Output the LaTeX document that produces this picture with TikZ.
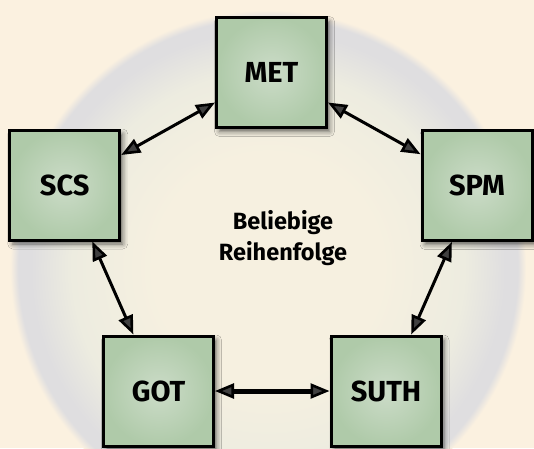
\documentclass[tikz,border=0pt]{standalone}
\usepackage{fontspec}
\setmainfont{Fira Sans}
\usepackage{tikz}
\usetikzlibrary{arrows.meta,shadows.blur}

\definecolor{bgcream}{HTML}{FBF1E0}
\definecolor{discin}{HTML}{F6F0E0}
\definecolor{discmid}{HTML}{EDECE0}
\definecolor{discout}{HTML}{DFDEE0}
\definecolor{boxin}{HTML}{CCDCC8}
\definecolor{boxout}{HTML}{AFCAA9}
\pgfdeclareradialshading{disc}{\pgfpoint{0bp}{0bp}}{color(0bp)=(discin); color(11bp)=(discin); color(19bp)=(discmid); color(23bp)=(discout); color(24.2bp)=(discout); color(25bp)=(bgcream); color(50bp)=(bgcream)}

\begin{document}
\begin{tikzpicture} [x=1pt, y=-1pt,
  box/.style={rectangle, draw, line width=3pt, minimum width=110pt, minimum height=110pt,
    inner sep=0pt, inner color=boxin, outer color=boxout,
    blur shadow={shadow xshift=3pt, shadow yshift=-4pt, shadow blur radius=5pt, shadow opacity=60},
    font=\fontsize{29}{31}\selectfont\bfseries},
  link/.style={line width=3pt, >={Triangle[length=19pt, width=15pt, line width=2.6pt, fill=black!75]}, <->}]
\useasboundingbox (0,0) rectangle (534,448);
\fill[bgcream] (0,0) rectangle (534,448);
\shade[shading=disc] (268,268) circle (258);

\node[box] (met) at (271.5,72.5) {MET};
\node[box] (scs) at (64.75,185) {SCS};
\node[box] (spm) at (477,185.5) {SPM};
\node[box] (got) at (158.5,391) {GOT};
\node[box] (suth) at (386,391) {SUTH};

\node[align=center, font=\fontsize{23.5}{31}\selectfont\bfseries] (order) at (283,238) {Beliebige\\Reihenfolge};

\draw[link] (met.208) -- (scs.28);
\draw[link] (met.332) -- (spm.151);
\draw[link] (scs.296) -- (got.114);
\draw[link] (spm.246) -- (suth.66);
\draw[link, line width=5pt] (got.east) -- (suth.west);
\end{tikzpicture}
\end{document}
